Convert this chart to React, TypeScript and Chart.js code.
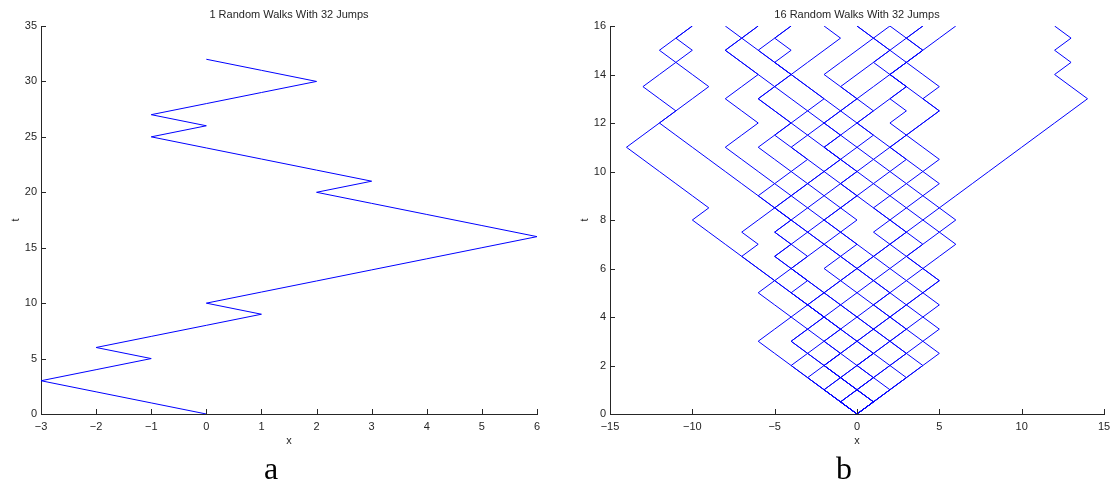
import { useEffect, useRef } from 'react';
import { Chart, registerables } from 'chart.js';

Chart.register(...registerables);

// ---- data -----------------------------------------------------------------

// single walk: position after each of the 32 unit jumps (one jump per time unit)
const SINGLE_TIMES = [0, 1, 2, 3, 4, 5, 6, 7, 8, 9, 10, 11, 12, 13, 14, 15, 16, 17, 18, 19, 20, 21, 22, 23, 24, 25, 26, 27, 28, 29, 30, 31, 32];
const SINGLE_WALK = [0, -1, -2, -3, -2, -1, -2, -1, 0, 1, 0, 1, 2, 3, 4, 5, 6, 5, 4, 3, 2, 3, 2, 1, 0, -1, 0, -1, 0, 1, 2, 1, 0];

// sixteen walks: 32 jumps of +-1, half a time unit apart
const MULTI_TIMES = [0, 0.5, 1, 1.5, 2, 2.5, 3, 3.5, 4, 4.5, 5, 5.5, 6, 6.5, 7, 7.5, 8, 8.5, 9, 9.5, 10, 10.5, 11, 11.5, 12, 12.5, 13, 13.5, 14, 14.5, 15, 15.5, 16];
const walk01 = [0, -1, -2, -3, -4, -5, -6, -5, -4, -5, -6, -5, -6, -7, -8, -9, -10, -9, -10, -11, -12, -13, -14, -13, -12, -11, -12, -13, -12, -11, -12, -11, -10];
const walk02 = [0, 1, 0, -1, -2, -1, -2, -3, -2, -3, -2, -3, -4, -3, -4, -3, -4, -5, -6, -7, -8, -9, -10, -11, -12, -11, -10, -9, -10, -11, -10, -11, -10];
const walk03 = [0, 1, 2, 3, 4, 5, 4, 5, 4, 5, 4, 5, 4, 5, 6, 5, 6, 5, 6, 7, 8, 9, 10, 11, 12, 13, 14, 13, 12, 13, 12, 13, 12];
const walk04 = [0, -1, -2, -1, 0, 1, 0, -1, 0, -1, -2, -1, 0, -1, -2, -1, -2, -3, -2, -1, -2, -1, -2, -1, -2, -1, -2, -3, -4, -5, -6, -7, -8];
const walk05 = [0, -1, 0, -1, -2, -1, -2, -1, -2, -3, -4, -5, -6, -7, -6, -7, -6, -5, -6, -5, -6, -7, -8, -7, -6, -7, -8, -7, -6, -7, -8, -7, -6];
const walk06 = [0, -1, -2, -3, -4, -3, -4, -3, -2, -3, -4, -3, -4, -5, -4, -5, -4, -3, -4, -5, -4, -5, -6, -5, -4, -5, -6, -5, -4, -5, -4, -5, -4];
const walk07 = [0, 1, 0, -1, -2, -3, -2, -1, -2, -1, 0, 1, 0, -1, 0, -1, 0, -1, 0, -1, 0, -1, -2, -3, -4, -3, -2, -3, -4, -5, -6, -5, -4];
const walk08 = [0, -1, 0, -1, -2, -3, -4, -3, -4, -3, -2, -3, -4, -5, -4, -5, -4, -5, -4, -3, -4, -3, -4, -5, -4, -5, -6, -5, -4, -3, -2, -1, -2];
const walk09 = [0, 1, 2, 3, 2, 1, 2, 3, 2, 3, 4, 3, 2, 3, 4, 3, 4, 3, 2, 3, 4, 5, 4, 3, 4, 5, 4, 5, 4, 3, 2, 1, 0];
const walk10 = [0, 1, 0, 1, 2, 3, 2, 1, 0, 1, 2, 1, 2, 1, 0, -1, -2, -1, 0, -1, 0, 1, 0, -1, 0, -1, 0, -1, -2, -1, 0, 1, 2];
const walk11 = [0, 1, 2, 3, 4, 3, 2, 3, 4, 3, 2, 1, 0, 1, 2, 1, 2, 3, 4, 3, 2, 3, 2, 3, 2, 3, 2, 3, 2, 3, 4, 3, 2];
const walk12 = [0, -1, 0, 1, 0, 1, 2, 1, 0, -1, -2, -1, -2, -1, -2, -3, -2, -1, -2, -3, -2, -1, 0, 1, 0, 1, 0, -1, 0, 1, 2, 3, 4];
const walk13 = [0, 1, 0, 1, 0, -1, 0, 1, 2, 1, 0, -1, 0, 1, 2, 3, 2, 1, 0, 1, 0, -1, -2, -1, -2, -1, 0, 1, 2, 3, 4, 5, 6];
const walk14 = [0, 1, 2, 1, 2, 3, 4, 3, 2, 1, 2, 3, 4, 3, 2, 3, 2, 1, 2, 1, 2, 1, 2, 1, 0, 1, 2, 3, 2, 1, 2, 1, 0];
const walk15 = [0, -1, -2, -1, 0, 1, 0, 1, 2, 3, 4, 5, 4, 3, 4, 5, 4, 5, 4, 5, 4, 3, 2, 3, 4, 5, 4, 3, 2, 3, 4, 3, 4];
const walk16 = [0, -1, -2, -3, -2, -1, 0, -1, -2, -3, -4, -5, -4, -3, -2, -3, -4, -5, -4, -3, -2, -3, -4, -3, -2, -3, -4, -5, -6, -7, -8, -7, -6];
const MULTI_WALKS = [walk01, walk02, walk03, walk04, walk05, walk06, walk07, walk08, walk09, walk10, walk11, walk12, walk13, walk14, walk15, walk16];

// axis ranges and tick steps
const SINGLE_X_RANGE = [-3, 6, 1];
const SINGLE_T_RANGE = [0, 35, 5];
const MULTI_X_RANGE = [-15, 15, 5];
const MULTI_T_RANGE = [0, 16, 2];

// ---- styling --------------------------------------------------------------

const LINE_BLUE = '#0000ff';
const AXIS_COLOR = '#262626';
const FONT_FAMILY = '"Liberation Sans", Arial, Helvetica, sans-serif';
const CANVAS_W = 560;
const CANVAS_H = 491;

const fmtTick = (v: number) => (v < 0 ? '\u2212' + Math.abs(v) : String(v));

// MATLAB-like frame: inward tick marks, title, axis labels
const frameDecor = {
  id: 'frameDecor',
  afterDraw(chart: any, _args: any, opts: any) {
    const { ctx, chartArea } = chart;
    const xs = chart.scales.x;
    const ys = chart.scales.y;
    ctx.save();
    ctx.strokeStyle = AXIS_COLOR;
    ctx.lineWidth = 1;
    ctx.beginPath();
    for (const t of xs.ticks) {
      const px = Math.round(xs.getPixelForValue(t.value)) + 0.5;
      ctx.moveTo(px, chartArea.bottom);
      ctx.lineTo(px, chartArea.bottom - opts.tickLen);
    }
    for (const t of ys.ticks) {
      const py = Math.round(ys.getPixelForValue(t.value)) + 0.5;
      ctx.moveTo(chartArea.left, py);
      ctx.lineTo(chartArea.left + opts.tickLen, py);
    }
    ctx.stroke();

    ctx.fillStyle = AXIS_COLOR;
    ctx.font = `11px ${FONT_FAMILY}`;
    ctx.textAlign = 'center';
    ctx.textBaseline = 'alphabetic';
    const cx = (chartArea.left + chartArea.right) / 2;
    const cy = (chartArea.top + chartArea.bottom) / 2;
    ctx.fillText(opts.title, cx, opts.titleBaseline);
    ctx.fillText(opts.xLabel, cx, opts.xLabelBaseline);
    ctx.translate(opts.yLabelBaseline, cy);
    ctx.rotate(-Math.PI / 2);
    ctx.fillText(opts.yLabel, 0, 0);
    ctx.restore();
  },
};

function buildConfig(p: {
  series: { x: number[]; t: number[] }[];
  xRange: number[];
  tRange: number[];
  title: string;
  yAxisWidth: number;
  rightPad: number;
  yLabelBaseline: number;
}) {
  return {
    type: 'scatter',
    data: {
      datasets: p.series.map((s) => ({
        data: s.x.map((x, i) => ({ x, y: s.t[i] })),
        showLine: true,
        borderColor: LINE_BLUE,
        backgroundColor: LINE_BLUE,
        borderWidth: 1,
        pointRadius: 0,
        pointHoverRadius: 0,
        tension: 0,
      })),
    },
    options: {
      responsive: false,
      animation: false,
      devicePixelRatio: 1,
      events: [],
      layout: { padding: { top: 26, left: 0, right: p.rightPad, bottom: 47 } },
      plugins: {
        legend: { display: false },
        title: { display: false },
        tooltip: { enabled: false },
        frameDecor: {
          title: p.title,
          xLabel: 'x',
          yLabel: 't',
          tickLen: 5,
          titleBaseline: 18,
          xLabelBaseline: 444,
          yLabelBaseline: p.yLabelBaseline,
        },
      },
      scales: {
        x: {
          type: 'linear',
          min: p.xRange[0],
          max: p.xRange[1],
          grid: { display: false, drawTicks: false },
          border: { display: true, color: AXIS_COLOR, width: 1 },
          ticks: {
            stepSize: p.xRange[2],
            padding: 6,
            color: AXIS_COLOR,
            font: { family: FONT_FAMILY, size: 11 },
            maxRotation: 0,
            autoSkip: false,
            callback: (v: number) => fmtTick(v),
          },
          afterFit: (s: any) => {
            s.height = 30;
          },
        },
        y: {
          type: 'linear',
          min: p.tRange[0],
          max: p.tRange[1],
          grid: { display: false, drawTicks: false },
          border: { display: true, color: AXIS_COLOR, width: 1 },
          ticks: {
            stepSize: p.tRange[2],
            padding: 4,
            color: AXIS_COLOR,
            font: { family: FONT_FAMILY, size: 11 },
            autoSkip: false,
            callback: (v: number) => fmtTick(v),
          },
          afterFit: (s: any) => {
            s.width = p.yAxisWidth;
          },
        },
      },
    },
    plugins: [frameDecor],
  } as any;
}

const captionStyle = (cx: number): any => ({
  position: 'absolute',
  left: cx - 50,
  width: 100,
  top: 452,
  textAlign: 'center',
  fontFamily: '"Liberation Serif", "DejaVu Serif", serif',
  fontSize: 32,
  lineHeight: '32px',
  color: '#000',
});

export default function App() {
  const leftRef = useRef<HTMLCanvasElement>(null);
  const rightRef = useRef<HTMLCanvasElement>(null);

  useEffect(() => {
    const single = new Chart(
      leftRef.current as HTMLCanvasElement,
      buildConfig({
        series: [{ x: SINGLE_WALK, t: SINGLE_TIMES }],
        xRange: SINGLE_X_RANGE,
        tRange: SINGLE_T_RANGE,
        title: '1 Random Walks With 32 Jumps',
        yAxisWidth: 41,
        rightPad: 23,
        yLabelBaseline: 18.5,
      })
    );
    const multi = new Chart(
      rightRef.current as HTMLCanvasElement,
      buildConfig({
        series: MULTI_WALKS.map((w) => ({ x: w, t: MULTI_TIMES })),
        xRange: MULTI_X_RANGE,
        tRange: MULTI_T_RANGE,
        title: '16 Random Walks With 32 Jumps',
        yAxisWidth: 50,
        rightPad: 16,
        yLabelBaseline: 27.5,
      })
    );
    return () => {
      single.destroy();
      multi.destroy();
    };
  }, []);

  return (
    <div
      style={{
        position: 'absolute',
        left: 0,
        top: 0,
        width: 1120,
        height: 491,
        background: '#fff',
        overflow: 'hidden',
      }}
    >
      <canvas ref={leftRef} width={CANVAS_W} height={CANVAS_H} style={{ position: 'absolute', left: 0, top: 0 }} />
      <canvas ref={rightRef} width={CANVAS_W} height={CANVAS_H} style={{ position: 'absolute', left: 560, top: 0 }} />
      <div style={captionStyle(271)}>a</div>
      <div style={captionStyle(844)}>b</div>
    </div>
  );
}
